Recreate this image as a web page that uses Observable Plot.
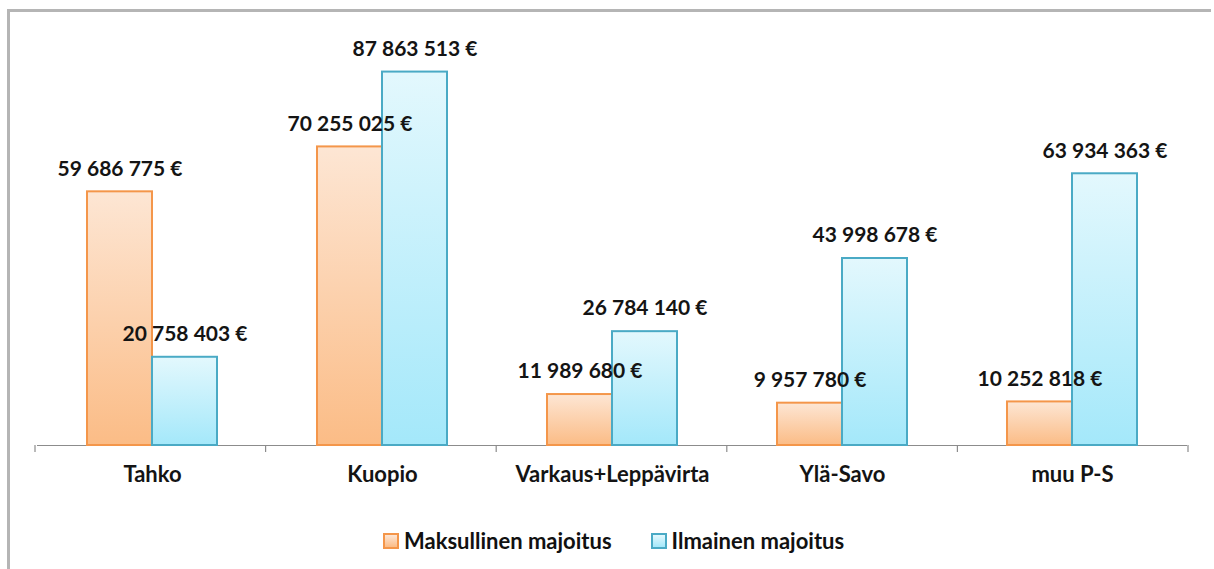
<!DOCTYPE html>
<html>
<head>
<meta charset="utf-8">
<script src="https://cdn.jsdelivr.net/npm/d3@7"></script>
<script src="https://cdn.jsdelivr.net/npm/@observablehq/plot@0.6"></script>
<style>
  html, body { margin: 0; padding: 0; background: #fff; width: 1214px; height: 569px; overflow: hidden; }
  #ftop { position: absolute; left: 7px; top: 9px; width: 1204px; height: 3px; background: #b5b5b5; }
  #fleft { position: absolute; left: 7px; top: 9px; width: 3px; height: 560px; background: #b5b5b5; }
  #chart { position: absolute; left: 0; top: 0; }
  #legend { position: absolute; left: 383px; top: 527px; display: flex; align-items: center;
            font-family: Lato, sans-serif; font-weight: bold; font-size: 22px; color: #111; }
  .item { display: flex; align-items: center; margin-right: 39px; }
  .sw { width: 12px; height: 12px; margin-right: 5px; border: 2px solid; }
</style>
</head>
<body>
<div id="ftop"></div>
<div id="fleft"></div>
<div id="chart"></div>
<div id="legend"></div>
<script>
const categories = ["Tahko", "Kuopio", "Varkaus+Leppävirta", "Ylä-Savo", "muu P-S"];
const series = ["Maksullinen majoitus", "Ilmainen majoitus"];
const maksullinen = [59686775, 70255025, 11989680, 9957780, 10252818];
const ilmainen = [20758403, 87863513, 26784140, 43998678, 63934363];

const seriesStyle = {
  "Maksullinen majoitus": {grad: "gOrange", top: "#fde6d4", bottom: "#fbbc86", stroke: "#f4964a"},
  "Ilmainen majoitus": {grad: "gCyan", top: "#e3f8fd", bottom: "#a4e8fa", stroke: "#4aaac5"}
};

const data = [];
categories.forEach((c, i) => {
  data.push({cat: c, series: series[0], value: maksullinen[i]});
  data.push({cat: c, series: series[1], value: ilmainen[i]});
});

const loc = d3.formatLocale({decimal: ",", thousands: " ", grouping: [3], currency: ["", " €"]});
const fmt = v => loc.format(",")(v) + " €";

const marks = [Plot.ruleY([0], {stroke: "#8c8c8c", strokeWidth: 1.2})];
series.forEach(s => {
  const st = seriesStyle[s];
  marks.push(Plot.barY(data.filter(d => d.series === s), {
    fx: "cat", x: "series", y: "value",
    fill: `url(#${st.grad})`, stroke: st.stroke, strokeWidth: 2
  }));
});
marks.push(Plot.text(data, {
  fx: "cat", x: "series", y: "value", text: d => fmt(d.value),
  dy: -23, fontSize: 21, fontWeight: "bold", fill: "#141414"
}));

const svg = Plot.plot({
  width: 1214, height: 500,
  marginLeft: 35, marginRight: 26, marginTop: 20, marginBottom: 55,
  style: {fontFamily: "Lato, sans-serif", fontSize: "22px", fontWeight: "bold", color: "#141414", background: "transparent"},
  fx: {domain: categories, padding: 0, label: null, tickSize: 0, tickPadding: 21, axis: "bottom"},
  x: {domain: series, paddingInner: 0, paddingOuter: 0.75, axis: null},
  y: {domain: [0, 100000000], axis: null},
  marks
});

const sel = d3.select(svg);
const defs = sel.insert("defs", ":first-child");
series.forEach(s => {
  const st = seriesStyle[s];
  const g = defs.append("linearGradient").attr("id", st.grad).attr("x1", 0).attr("y1", 0).attr("x2", 0).attr("y2", 1);
  g.append("stop").attr("offset", "0%").attr("stop-color", st.top);
  g.append("stop").attr("offset", "100%").attr("stop-color", st.bottom);
});

// boundary ticks under the baseline, from the fx scale
const fxs = svg.scale("fx");
const ys = svg.scale("y");
const band = d3.scaleBand().domain(fxs.domain).range(fxs.range).padding(0);
const y0 = d3.scaleLinear().domain(ys.domain).range(ys.range)(0);
const bounds = fxs.domain.map(d => band(d)).concat([band(fxs.domain[fxs.domain.length - 1]) + band.bandwidth()]);
sel.append("g").selectAll("line").data(bounds).join("line")
  .attr("x1", d => d).attr("x2", d => d).attr("y1", y0).attr("y2", y0 + 7)
  .attr("stroke", "#8c8c8c").attr("stroke-width", 1.2);

document.getElementById("chart").appendChild(svg);

const legend = d3.select("#legend");
series.forEach(s => {
  const st = seriesStyle[s];
  const it = legend.append("div").attr("class", "item");
  it.append("div").attr("class", "sw")
    .style("border-color", st.stroke)
    .style("background", `linear-gradient(${st.top}, ${st.bottom})`);
  it.append("span").text(s);
});
</script>
</body>
</html>
